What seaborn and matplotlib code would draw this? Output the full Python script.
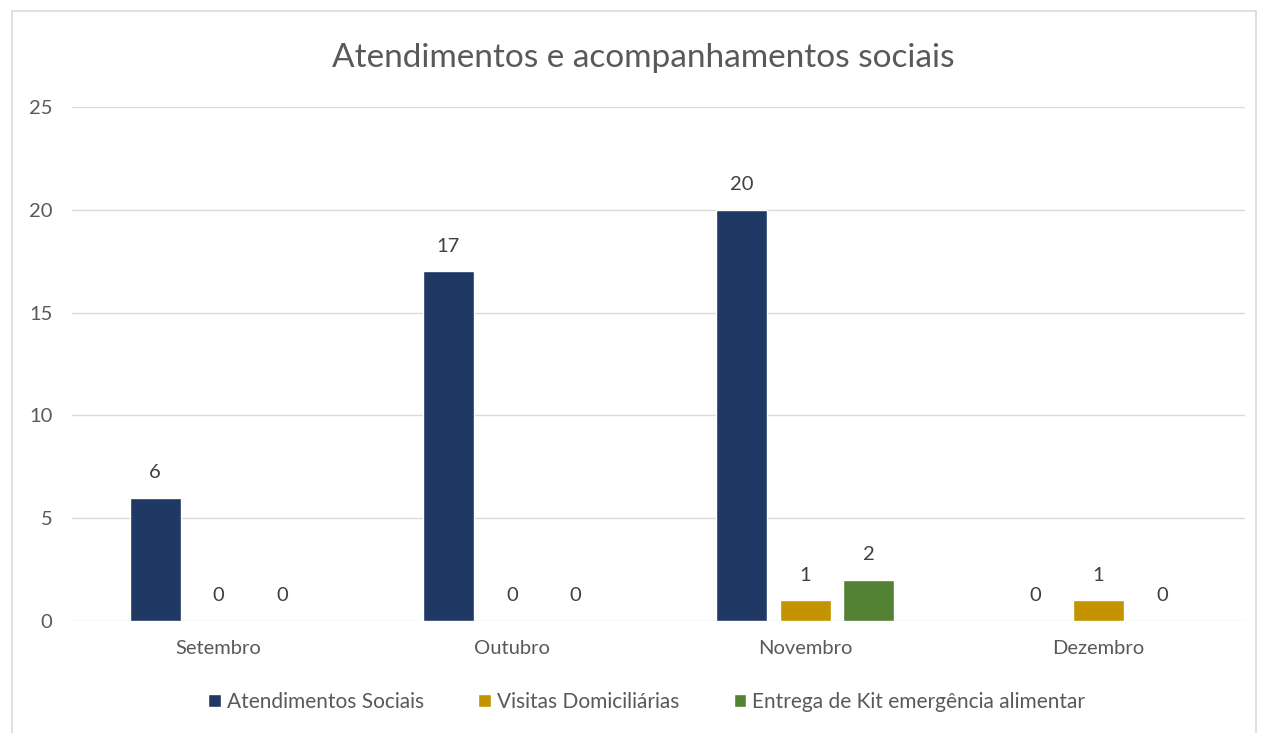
import numpy as np
import pandas as pd
import matplotlib
matplotlib.use("Agg")
import matplotlib.pyplot as plt
from matplotlib.patches import Rectangle
import seaborn as sns

meses = ['Setembro', 'Outubro', 'Novembro', 'Dezembro']
series = ['Atendimentos Sociais', 'Visitas Domiciliárias', 'Entrega de Kit emergência alimentar']
atendimentos = [6, 17, 20, 0]
visitas = [0, 0, 1, 1]
kits = [0, 0, 2, 0]
cores = ['#203864', '#C39300', '#548235']

df = pd.DataFrame({
    'Mês': meses * 3,
    'Série': [series[0]] * 4 + [series[1]] * 4 + [series[2]] * 4,
    'Valor': atendimentos + visitas + kits,
})

sns.set_style('white')
plt.rcParams['font.family'] = ['Lato', 'DejaVu Sans']

fig = plt.figure(figsize=(12.61, 7.33), dpi=100)
ax = fig.add_axes([0.0571, 0.1528, 0.9302, 0.7012])

sns.barplot(data=df, x='Mês', y='Valor', hue='Série', palette=cores,
            width=0.65, gap=0.2, saturation=1, ax=ax, legend=True)

ax.set_ylim(0, 25)
ax.set_yticks([0, 5, 10, 15, 20, 25])
ax.set_xlim(-0.5, 3.5)
ax.yaxis.grid(True, color='#D9D9D9', linewidth=1)
ax.set_axisbelow(True)
for s in ax.spines.values():
    s.set_visible(False)
ax.tick_params(axis='both', length=0, labelsize=14.5, labelcolor='#595959')
ax.tick_params(axis='y', pad=14)
ax.tick_params(axis='x', pad=14)
ax.set_xlabel('')
ax.set_ylabel('')

for c in ax.containers:
    ax.bar_label(c, fmt='%d', padding=12, fontsize=14.5, color='#404040')

fig.text(0.51, 0.921, 'Atendimentos e acompanhamentos sociais', ha='center',
         va='center', fontsize=24, color='#595959')

handles, labels = ax.get_legend_handles_labels()
ax.legend_.remove()
fig.legend(handles, labels, loc='center', bbox_to_anchor=(0.513, 0.042), ncol=3,
           frameon=False, fontsize=15, handlelength=0.6, handleheight=0.6,
           columnspacing=2.6, handletextpad=0.3, labelcolor='#595959')

fig.patches.append(Rectangle((12 / 1261, -0.01), 1244 / 1261, 1 - 11 / 733 + 0.01,
                             transform=fig.transFigure, fill=False,
                             edgecolor='#D9D9D9', linewidth=1.2))

fig.savefig('out.png', dpi=100)
